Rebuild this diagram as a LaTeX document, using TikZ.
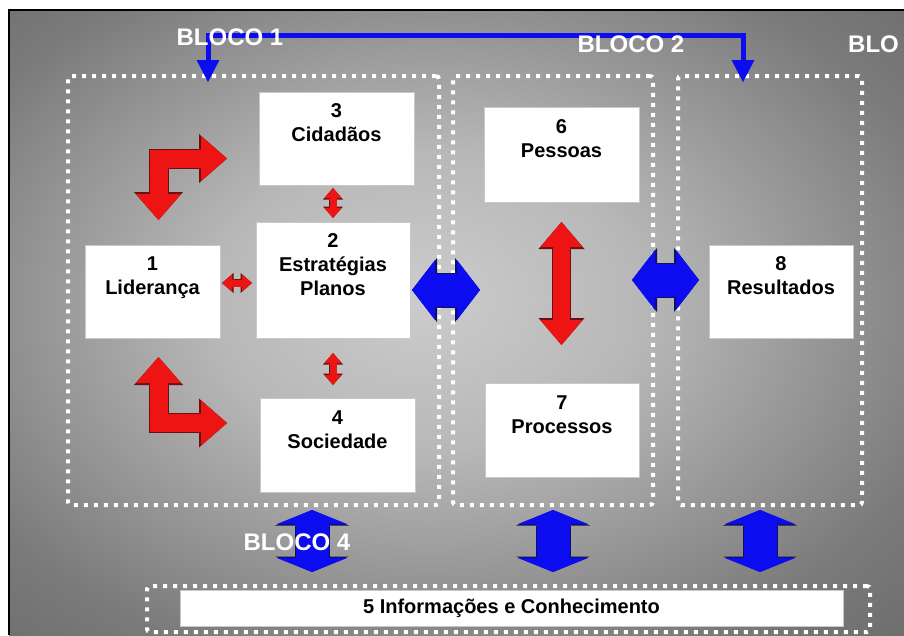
\documentclass[tikz,border=0pt]{standalone}
\usepackage{fontspec}
\setmainfont{Liberation Sans}
\usetikzlibrary{arrows.meta}
\definecolor{ArrowRed}{HTML}{EE1414}
\definecolor{RedEdge}{HTML}{6A1010}
\definecolor{ArrowBlue}{HTML}{0C0CF0}
\definecolor{BlueEdge}{HTML}{101060}
\definecolor{BoxLine}{HTML}{C8C8C8}
\pgfdeclareradialshading{backglow}{\pgfpoint{-2bp}{2bp}}{%
  color(0bp)=(black!20); color(12bp)=(black!28); color(30bp)=(black!52);
  color(50bp)=(black!66); color(72bp)=(black!70)}

\begin{document}
\begin{tikzpicture}[x=1pt,y=-1pt,
    box/.style={draw=BoxLine,fill=white,inner sep=0pt,outer sep=0pt,align=center,
      font=\fontsize{20}{24}\selectfont\bfseries},
    bloco/.style={draw=white,line width=4pt,dash pattern=on 4pt off 6pt,
      rounded corners=3pt,inner sep=0pt,outer sep=0pt},
    blocotitle/.style={text=white,inner sep=0pt,font=\fontsize{24}{28}\selectfont\bfseries},
    redbend/.style={ArrowRed,line width=18pt,line join=miter,
      {Triangle[width=45pt,length=26pt,line width=0pt]}-{Triangle[width=45pt,length=26pt,line width=0pt]},
      preaction={draw=RedEdge,line width=20pt,
        arrows={Triangle[width=49pt,length=28pt,line width=0pt]-Triangle[width=49pt,length=28pt,line width=0pt]}}},
    redbig/.style={ArrowRed,line width=17pt,
      {Triangle[width=42pt,length=25pt,line width=0pt]}-{Triangle[width=42pt,length=25pt,line width=0pt]},
      preaction={draw=RedEdge,line width=19pt,
        arrows={Triangle[width=46pt,length=27pt,line width=0pt]-Triangle[width=46pt,length=27pt,line width=0pt]}}},
    redsmall/.style={ArrowRed,line width=7pt,
      {Triangle[width=17pt,length=10pt,line width=0pt]}-{Triangle[width=17pt,length=10pt,line width=0pt]},
      preaction={draw=RedEdge,line width=8.5pt,
        arrows={Triangle[width=20pt,length=11.5pt,line width=0pt]-Triangle[width=20pt,length=11.5pt,line width=0pt]}}},
    bluewide/.style={ArrowBlue,line width=33pt,
      {Triangle[width=60pt,length=23pt,line width=0pt]}-{Triangle[width=60pt,length=23pt,line width=0pt]},
      preaction={draw=BlueEdge,line width=35pt,
        arrows={Triangle[width=64pt,length=25pt,line width=0pt]-Triangle[width=64pt,length=25pt,line width=0pt]}}},
    bluetall/.style={ArrowBlue,line width=33pt,
      {Triangle[width=70pt,length=14pt,line width=0pt]}-{Triangle[width=70pt,length=14pt,line width=0pt]},
      preaction={draw=BlueEdge,line width=35pt,
        arrows={Triangle[width=74pt,length=15.5pt,line width=0pt]-Triangle[width=74pt,length=15.5pt,line width=0pt]}}},
    bluelink/.style={ArrowBlue,line width=5pt,line join=miter,
      {Triangle[width=23pt,length=22pt,line width=0pt]}-{Triangle[width=23pt,length=22pt,line width=0pt]}}
  ]
  \useasboundingbox (0,0) rectangle (904,635);
  % fundo
  \shade[shading=backglow] (9,10) rectangle (904,635);
  \draw[black,line width=1.5pt] (9,635) -- (9,10) -- (904,10);

  % blocos
  \node[bloco,minimum width=371pt,minimum height=429pt] (blk1) at (253.5,290.5) {};
  \node[bloco,minimum width=200pt,minimum height=429pt] (blk2) at (553,290.5) {};
  \node[bloco,minimum width=184pt,minimum height=429pt] (blk3) at (770,290.5) {};
  \node[bloco,minimum width=723pt,minimum height=46pt] (blk5) at (508.5,609) {};

  % caixas
  \node[box,minimum width=135pt,minimum height=93pt] (b1) at (152.5,291.5) {1\\Liderança\\\strut};
  \node[box,minimum width=154pt,minimum height=116pt] (b2) at (333,280) {2\\Estratégias\\Planos\\\strut};
  \node[box,minimum width=155pt,minimum height=93pt] (b3) at (336.5,138.5) {3\\Cidadãos\\\strut};
  \node[box,minimum width=155pt,minimum height=94pt] (b4) at (337.5,445) {4\\Sociedade\\\strut};
  \node[box,minimum width=155pt,minimum height=95pt] (b6) at (561.5,154.5) {6\\Pessoas\\\strut};
  \node[box,minimum width=154pt,minimum height=94pt] (b7) at (562,430) {7\\Processos\\\strut};
  \node[box,minimum width=144pt,minimum height=93pt] (b8) at (781,291.5) {8\\Resultados\\\strut};
  \node[box,minimum width=663pt,minimum height=36pt] (b5) at (511.5,608) {5 Informações e Conhecimento};

  % setas vermelhas
  \draw[redbend] ([xshift=6pt,yshift=25pt]b1.north) |- ([xshift=-32pt,yshift=-20pt]b3.west);
  \draw[redbend] ([xshift=6pt,yshift=-19pt]b1.south) |- ([xshift=-33pt,yshift=22pt]b4.west);
  \draw[redsmall,shorten <=4pt,shorten >=3pt] (b2.north) -- (b2.north |- b3.south);
  \draw[redsmall,shorten <=15pt,shorten >=13pt] (b2.south) -- (b2.south |- b4.north);
  \draw[redsmall,shorten <=2pt,shorten >=4pt] ([yshift=8.5pt]b1.east) -- ([yshift=8.5pt]b1.east -| b2.west);
  \draw[redbig,shorten <=20pt,shorten >=38pt] (b6.south) -- (b6.south |- b7.north);

  % setas azuis
  \draw[bluewide] ([xshift=2pt,yshift=-10pt]b2.east) -- ([xshift=70pt,yshift=-10pt]b2.east);
  \draw[bluewide] ([xshift=-77pt,yshift=11.5pt]b8.west) -- ([xshift=-10pt,yshift=11.5pt]b8.west);
  \draw[bluetall,shorten <=5pt,shorten >=18pt] ([xshift=58.5pt]blk1.south) -- ([xshift=58.5pt]blk1.south |- b5.north);
  \draw[bluetall,shorten <=5pt,shorten >=18pt] (blk2.south) -- (blk2.south |- b5.north);
  \draw[bluetall,shorten <=5pt,shorten >=18pt] ([xshift=-10pt]blk3.south) -- ([xshift=-10pt]blk3.south |- b5.north);
  \draw[bluelink] ([xshift=-45.5pt,yshift=-6pt]blk1.north) -- ++(0,-47) -| ([xshift=-27pt,yshift=-6pt]blk3.north);

  % titulos
  \node[blocotitle] (t1) at (230,37) {BLOCO 1};
  \node[blocotitle] (t2) at (631,44) {BLOCO 2};
  \node[blocotitle,anchor=west] (t3) at (848,44) {BLO};
  \node[blocotitle] (t4) at (297,542) {BLOCO 4};
\end{tikzpicture}
\end{document}
